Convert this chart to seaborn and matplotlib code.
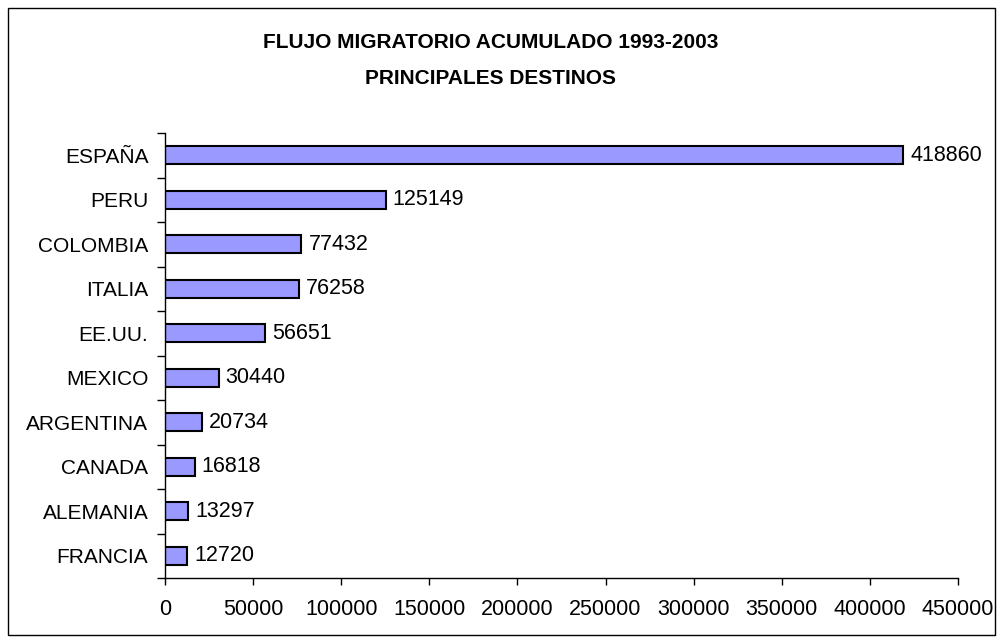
import matplotlib
matplotlib.use("Agg")
import matplotlib.pyplot as plt
import seaborn as sns
import pandas as pd
import numpy as np
from matplotlib.patches import Rectangle

sns.set_theme(style="white")
plt.rcParams['font.family'] = ['Liberation Sans', 'DejaVu Sans']
plt.rcParams['text.color'] = 'black'
plt.rcParams['xtick.color'] = 'black'
plt.rcParams['ytick.color'] = 'black'

countries = ["ESPAÑA", "PERU", "COLOMBIA", "ITALIA", "EE.UU.", "MEXICO",
             "ARGENTINA", "CANADA", "ALEMANIA", "FRANCIA"]
values = [418860, 125149, 77432, 76258, 56651, 30440, 20734, 16818, 13297, 12720]
xticks = [0, 50000, 100000, 150000, 200000, 250000, 300000, 350000, 400000, 450000]
title_lines = ["FLUJO MIGRATORIO ACUMULADO 1993-2003", "PRINCIPALES DESTINOS"]

df = pd.DataFrame({"pais": countries, "valor": values})

fig = plt.figure(figsize=(10.03, 6.43), dpi=100)
ax = fig.add_axes([165/1003, 1-578/643, (958-165)/1003, (578-133)/643])

sns.barplot(data=df, y="pais", x="valor", orient="h", color="#9999FF",
            edgecolor="black", linewidth=1.5, width=0.41, ax=ax, saturation=1)

for i, v in enumerate(values):
    ax.annotate(str(v), xy=(v, i), xytext=(5, 0), textcoords="offset points",
                va="center", ha="left", fontsize=15.5, color="black")

ax.set_xlim(0, 450000)
ax.set_ylim(len(countries) - 0.5, -0.5)
ax.set_xticks(xticks)
ax.set_xticklabels([str(t) for t in xticks], fontsize=15.5)
ax.set_yticks(range(len(countries)))
ax.set_yticklabels(countries, fontsize=15)
ax.set_yticks(np.arange(-0.5, len(countries), 1), minor=True)
ax.tick_params(axis="y", which="major", length=0, pad=12)
ax.tick_params(axis="y", which="minor", length=6, width=1, color="black", direction="out", left=True)
ax.tick_params(axis="x", which="major", length=5, width=1, color="black", direction="out", bottom=True, pad=10)
ax.set_xlabel("")
ax.set_ylabel("")
for s in ["top", "right"]:
    ax.spines[s].set_visible(False)
for s in ["left", "bottom"]:
    ax.spines[s].set_color("black")
    ax.spines[s].set_linewidth(1)
ax.grid(False)

fig.text(491/1003, 1-42/643, title_lines[0], ha="center", va="center", fontsize=15,
         fontweight="bold")
fig.text(491/1003, 1-78/643, title_lines[1], ha="center", va="center", fontsize=15,
         fontweight="bold")

fig.patches.append(Rectangle((8/1003, 8/643), (995-8)/1003, (635-8)/643,
                             transform=fig.transFigure, fill=False,
                             edgecolor="black", linewidth=1))

fig.savefig("out.png", dpi=100)
